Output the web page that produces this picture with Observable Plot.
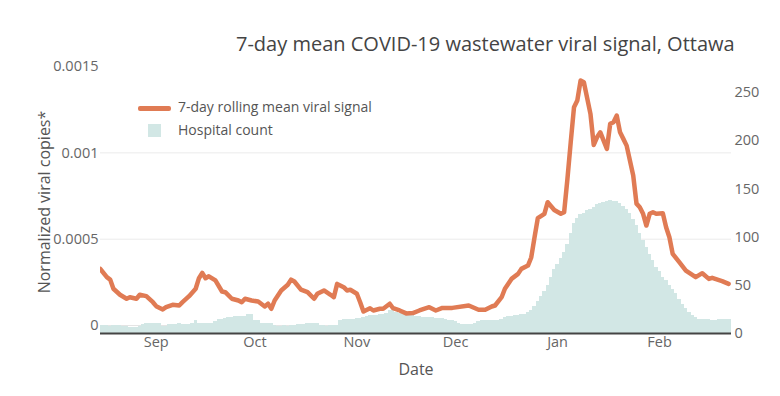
<!DOCTYPE html>
<html><head><meta charset="utf-8">
<script src="https://cdn.jsdelivr.net/npm/d3@7"></script>
<script src="https://cdn.jsdelivr.net/npm/@observablehq/plot@0.6"></script>
<style>
body{margin:0;background:#fff;font-family:"Open Sans",sans-serif;}
#wrap{position:relative;width:780px;height:396px;overflow:hidden;}
.t{position:absolute;white-space:nowrap;color:#444;line-height:1;}
#chart{position:absolute;left:0;top:0;}
</style></head><body>
<div id="wrap">
<div id="chart"></div>
<div class="t" style="left:236px;top:34px;font-size:20px;">7-day mean COVID-19 wastewater viral signal, Ottawa</div>
<div style="position:absolute;left:138px;top:106px;width:33px;height:4.5px;background:#e07b54;border-radius:2px"></div>
<div class="t" style="left:178px;top:100px;font-size:14px;color:#555">7-day rolling mean viral signal</div>
<div style="position:absolute;left:148px;top:124px;width:13px;height:13px;background:#d2e7e5"></div>
<div class="t" style="left:178px;top:123px;font-size:14px;color:#555">Hospital count</div>
<div class="t" style="left:44px;top:202px;font-size:16px;color:#555;transform:translate(-50%,-50%) rotate(-90deg)">Normalized viral copies*</div>
<div class="t" style="left:416px;top:369px;font-size:16px;color:#555;transform:translate(-50%,-50%)">Date</div>
</div>
<script>
// 7-day rolling mean viral signal (normalized viral copies)
const lineDates = ["2021-08-15","2021-08-17","2021-08-18","2021-08-19","2021-08-21","2021-08-23","2021-08-24","2021-08-26","2021-08-27","2021-08-29","2021-08-31",
"2021-09-01","2021-09-03","2021-09-04","2021-09-06","2021-09-08","2021-09-09","2021-09-11","2021-09-13","2021-09-14","2021-09-15","2021-09-16","2021-09-17","2021-09-19","2021-09-21","2021-09-22","2021-09-24","2021-09-26","2021-09-27","2021-09-28","2021-09-30",
"2021-10-02","2021-10-04","2021-10-05","2021-10-06","2021-10-07","2021-10-09","2021-10-11","2021-10-12","2021-10-13","2021-10-15","2021-10-17","2021-10-19","2021-10-20","2021-10-22","2021-10-24","2021-10-25","2021-10-26","2021-10-28","2021-10-29","2021-10-30",
"2021-11-01","2021-11-02","2021-11-03","2021-11-05","2021-11-06","2021-11-08","2021-11-09","2021-11-11","2021-11-12","2021-11-14","2021-11-16","2021-11-18","2021-11-20","2021-11-23","2021-11-25","2021-11-27","2021-11-30",
"2021-12-05","2021-12-08","2021-12-10","2021-12-12","2021-12-13","2021-12-15","2021-12-16","2021-12-18","2021-12-20","2021-12-21","2021-12-23","2021-12-24","2021-12-25","2021-12-26","2021-12-28","2021-12-29","2021-12-31",
"2022-01-02","2022-01-03","2022-01-04","2022-01-05","2022-01-06","2022-01-07","2022-01-08","2022-01-09","2022-01-11","2022-01-12","2022-01-13","2022-01-14","2022-01-16","2022-01-17","2022-01-18","2022-01-19","2022-01-20","2022-01-21","2022-01-22","2022-01-24","2022-01-25","2022-01-26","2022-01-27","2022-01-28","2022-01-29","2022-01-30","2022-01-31",
"2022-02-02","2022-02-03","2022-02-04","2022-02-05","2022-02-07","2022-02-09","2022-02-12","2022-02-14","2022-02-16","2022-02-17","2022-02-20","2022-02-22"];
const lineValues = [0.000328,0.000280,0.000266,0.000213,0.000178,0.000155,0.000164,0.000155,0.000178,0.000170,0.000135,
0.000112,0.000093,0.000106,0.000120,0.000116,0.000135,0.000170,0.000213,0.000274,0.000305,0.000274,0.000285,0.000261,0.000197,0.000193,0.000155,0.000145,0.000135,0.000155,0.000145,
0.000139,0.000110,0.000126,0.000097,0.000145,0.000203,0.000236,0.000266,0.000255,0.000208,0.000193,0.000155,0.000184,0.000203,0.000178,0.000164,0.000241,0.000222,0.000203,0.000207,
0.000184,0.000135,0.000081,0.000100,0.000087,0.000097,0.000097,0.000126,0.000100,0.000087,0.000070,0.000072,0.000087,0.000106,0.000087,0.000102,0.000102,
0.000116,0.000091,0.000091,0.000110,0.000116,0.000164,0.000213,0.000270,0.000299,0.000328,0.000347,0.000394,0.000511,0.000622,0.000647,0.000714,0.000669,
0.000647,0.000656,0.000849,0.001061,0.001264,0.001303,0.001419,0.001409,0.001226,0.001046,0.001090,0.001119,0.001023,0.001168,0.001177,0.001216,0.001119,0.001081,0.001042,0.000869,0.000706,0.000685,0.000647,0.000579,0.000647,0.000656,0.000647,
0.000650,0.000569,0.000511,0.000415,0.000367,0.000318,0.000280,0.000303,0.000270,0.000276,0.000257,0.000241];

// Daily hospital count, starting 2021-08-15
const hospStart = "2021-08-15";
const hospCounts = [
8,8,8,7,8,8,8,7,7, 6,6,6,7,9,10,10, 10,
10,10, 7,7, 9,9,9,10,9,9,9,10, 14, 10,10,10,10,10,12, 15,15,16, 17,17,18,18,18,18, 20,20,
14,13, 10,10,10,10, 8,7,7,8,7,8,8, 9,9,9,10,10,10,10, 8,8,7,8,8,8, 14,15,15,15,15,
16,16,17, 18,19,19,19,20,20,21, 24,24, 22,21,21,21,20,20, 18,18,17,17,17,17,16,16,16,15, 13,13,
12, 10,9,9,9,9,10, 12,13,13,14,14,14,14,15, 17,18,18,19,19,20, 20,22,24,28,33,38,44,50,58,66,
72,78,84,92,104,114,119,123,125,128,129,131,134,135,136,137,138,137,137,135,132,129,124,118,112,104,96,89,82,76,68,
64,58,55,50,46,41,35,30,26,22,19,17,15,15,15,15,14,14,15,15,15,15,15];

const leftTicks = [0, 0.0005, 0.001, 0.0015];
const rightTicks = [0, 50, 100, 150, 200, 250];
const monthTicks = ["2021-09-01","2021-10-01","2021-11-01","2021-12-01","2022-01-01","2022-02-01"];

const lineData = lineDates.map((d, i) => ({date: new Date(d), v: lineValues[i]}));
const hosp = hospCounts.map((c, i) => ({date: d3.utcDay.offset(new Date(hospStart), i), c}));

const yMin = -0.0000463, yMax = 0.001535, hMax = 283.2;
const k = (yMax - yMin) / hMax;
const toLeft = h => yMin + h * k;

const chart = Plot.plot({
  width: 780, height: 396,
  marginTop: 60, marginBottom: 63, marginLeft: 100, marginRight: 49,
  style: {fontFamily: "'Open Sans', sans-serif", fontSize: "14.5px", color: "#666", background: "transparent"},
  x: {type: "utc", domain: [new Date("2021-08-15T01:40Z"), new Date("2022-02-22T21:00Z")]},
  y: {domain: [yMin, yMax]},
  marks: [
    Plot.ruleY([0.0005, 0.001], {stroke: "#ebebeb"}),
    Plot.ruleY([0], {stroke: "#e4e4e4"}),
    Plot.rect(hosp, {x1: d => d3.utcHour.offset(d.date, -12), x2: d => d3.utcHour.offset(d.date, 14), y1: () => yMin, y2: d => toLeft(d.c), fill: "#d2e7e5", shapeRendering: "crispEdges", clip: true}),
    Plot.line(lineData, {x: "date", y: "v", stroke: "#e07b54", strokeWidth: 4.5, strokeLinejoin: "round", strokeLinecap: "round", clip: true}),
    Plot.ruleY([yMin], {stroke: "#444", strokeWidth: 2}),
    Plot.axisY({ticks: leftTicks, tickFormat: d => String(d), tickSize: 0, tickPadding: 2, label: null, fill: "#666"}),
    Plot.axisY({anchor: "right", ticks: rightTicks.map(toLeft), tickFormat: v => String(Math.round((v - yMin) / k)), tickSize: 0, tickPadding: 3, label: null, fill: "#666"}),
    Plot.axisX({ticks: monthTicks.map(d => new Date(d)), tickFormat: d3.utcFormat("%b"), tickSize: 0, tickPadding: 3, label: null, fill: "#666"})
  ]
});
document.getElementById("chart").appendChild(chart);
</script>
</body></html>
